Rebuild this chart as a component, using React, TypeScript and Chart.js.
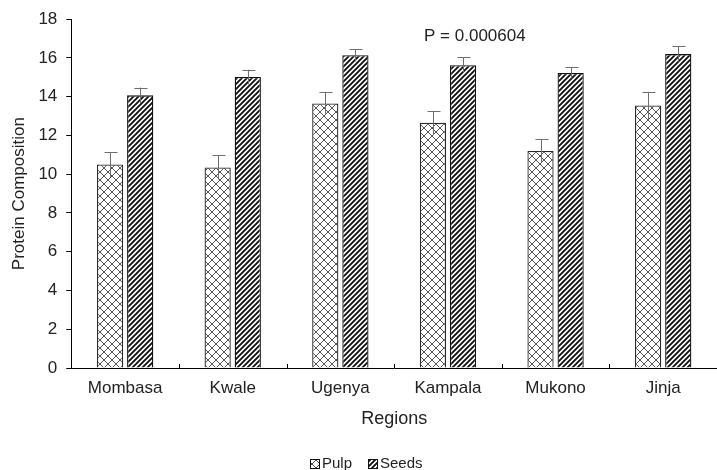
import React, { useEffect, useRef } from "react";
import { Chart, registerables } from "chart.js";

Chart.register(...registerables);

const categories = ["Mombasa", "Kwale", "Ugenya", "Kampala", "Mukono", "Jinja"];
const pulpValues = [10.5, 10.35, 13.65, 12.65, 11.2, 13.55];
const pulpErrors = [0.65, 0.62, 0.6, 0.62, 0.62, 0.7];
const seedValues = [14.07, 15.02, 16.14, 15.63, 15.23, 16.2];
const seedErrors = [0.4, 0.38, 0.32, 0.4, 0.28, 0.4];
const yTicks = [0, 2, 4, 6, 8, 10, 12, 14, 16, 18];
const pText = "P = 0.000604";
const seriesNames = ["Pulp", "Seeds"];

const FONT = "'Liberation Sans', Arial, sans-serif";
const TXT = "#222222";

function makeCrossPattern(): CanvasPattern | string {
  const s = 8;
  const c = document.createElement("canvas");
  c.width = s;
  c.height = s;
  const g = c.getContext("2d");
  if (!g) return "#fff";
  g.fillStyle = "#ffffff";
  g.fillRect(0, 0, s, s);
  g.strokeStyle = "#555555";
  g.lineWidth = 1;
  g.beginPath();
  g.moveTo(0, 0);
  g.lineTo(s, s);
  g.moveTo(s, 0);
  g.lineTo(0, s);
  g.stroke();
  const p = g.createPattern(c, "repeat");
  return p || "#fff";
}

function makeStripePattern(): CanvasPattern | string {
  const s = 5;
  const c = document.createElement("canvas");
  c.width = s;
  c.height = s;
  const g = c.getContext("2d");
  if (!g) return "#333";
  g.fillStyle = "#ffffff";
  g.fillRect(0, 0, s, s);
  g.strokeStyle = "#111111";
  g.lineWidth = 1.9;
  g.beginPath();
  g.moveTo(-1, s + 1);
  g.lineTo(s + 1, -1);
  g.moveTo(-1, 1);
  g.lineTo(1, -1);
  g.moveTo(s - 1, s + 1);
  g.lineTo(s + 1, s - 1);
  g.stroke();
  const p = g.createPattern(c, "repeat");
  return p || "#333";
}

const extrasPlugin = {
  id: "extras",
  afterDatasetsDraw(chart: any) {
    const ctx = chart.ctx;
    const x = chart.scales.x;
    const y = chart.scales.y;
    const errs = [pulpErrors, seedErrors];
    ctx.save();
    // error bars
    ctx.strokeStyle = "#6e6e6e";
    ctx.lineWidth = 1;
    chart.data.datasets.forEach((ds: any, di: number) => {
      const meta = chart.getDatasetMeta(di);
      meta.data.forEach((bar: any, i: number) => {
        const v = ds.data[i];
        const e = errs[di][i];
        const cx = Math.round(bar.x) + 0.5;
        const top = y.getPixelForValue(v + e);
        const bot = y.getPixelForValue(v - e);
        ctx.beginPath();
        ctx.moveTo(cx, bot);
        ctx.lineTo(cx, top);
        ctx.moveTo(cx - 6, Math.round(top) + 0.5);
        ctx.lineTo(cx + 7, Math.round(top) + 0.5);
        ctx.stroke();
      });
    });
    // inward ticks on x axis between categories
    ctx.strokeStyle = "#000";
    ctx.lineWidth = 1;
    const yb = Math.round(y.getPixelForValue(0));
    for (let i = 1; i < categories.length; i++) {
      const px = Math.round((x.getPixelForValue(i - 1) + x.getPixelForValue(i)) / 2) + 0.5;
      ctx.beginPath();
      ctx.moveTo(px, yb);
      ctx.lineTo(px, yb - 4);
      ctx.stroke();
    }
    // P text
    ctx.fillStyle = TXT;
    ctx.font = "17px " + FONT;
    ctx.textAlign = "center";
    ctx.textBaseline = "middle";
    const step = x.getPixelForValue(1) - x.getPixelForValue(0);
    const tx = x.getPixelForValue(3) + step * 0.25;
    ctx.fillText(pText, tx, y.getPixelForValue(17.1));

    // custom legend
    const fills = chart.data.datasets.map((d: any) => d.backgroundColor);
    ctx.font = "15px " + FONT;
    ctx.textAlign = "left";
    const box = 10;
    const gapBox = 2;
    const gapItem = 16;
    const widths = seriesNames.map((n) => ctx.measureText(n).width);
    const total = widths.reduce((a: number, w: number) => a + box + gapBox + w, 0) + gapItem;
    let lx = Math.round(chart.width / 2 + 8 - total / 2);
    const ly = chart.height - 6;
    seriesNames.forEach((n, i) => {
      ctx.fillStyle = fills[i];
      ctx.fillRect(lx, ly - box / 2, box, box);
      ctx.strokeStyle = "#111";
      ctx.lineWidth = 1;
      ctx.strokeRect(lx + 0.5, ly - box / 2 + 0.5, box - 1, box - 1);
      ctx.fillStyle = TXT;
      ctx.fillText(n, lx + box + gapBox, ly);
      lx += box + gapBox + widths[i] + gapItem;
    });
    ctx.restore();
  },
};

export default function App() {
  const ref = useRef<HTMLCanvasElement>(null);
  useEffect(() => {
    document.body.style.margin = "0";
    if (!ref.current) return;
    const pulpFill = makeCrossPattern();
    const seedFill = makeStripePattern();
    const chart = new Chart(ref.current, {
      type: "bar",
      data: {
        labels: categories,
        datasets: [
          {
            label: seriesNames[0],
            data: pulpValues,
            backgroundColor: pulpFill as any,
            borderColor: "#2a2a2a",
            borderWidth: 1.3,
            barPercentage: 0.87,
            categoryPercentage: 0.56,
          },
          {
            label: seriesNames[1],
            data: seedValues,
            backgroundColor: seedFill as any,
            borderColor: "#111",
            borderWidth: 1.3,
            barPercentage: 0.87,
            categoryPercentage: 0.56,
          },
        ],
      },
      options: {
        animation: false,
        responsive: false,
        maintainAspectRatio: false,
        layout: { padding: { top: 19, right: 0, left: 4, bottom: 16 } },
        plugins: {
          legend: { display: false },
          tooltip: { enabled: false },
        },
        scales: {
          x: {
            grid: { display: false, drawTicks: false },
            border: { display: true, color: "#000", width: 1 },
            ticks: { color: TXT, font: { family: FONT, size: 17 }, padding: 10 },
            title: {
              display: true,
              text: "Regions",
              color: TXT,
              font: { family: FONT, size: 18 },
              padding: { top: 0, bottom: 24 },
            },
          },
          y: {
            min: 0,
            max: 18,
            afterBuildTicks: (axis: any) => {
              axis.ticks = yTicks.map((v) => ({ value: v }));
            },
            grid: { drawOnChartArea: false, drawTicks: true, tickLength: 5, color: "#000" },
            border: { display: true, color: "#000", width: 1 },
            ticks: { color: TXT, font: { family: FONT, size: 17 }, padding: 9 },
            title: {
              display: true,
              text: "Protein Composition",
              color: TXT,
              font: { family: FONT, size: 17 },
              padding: { top: 5, bottom: 0 },
            },
          },
        },
      },
      plugins: [extrasPlugin],
    });
    return () => chart.destroy();
  }, []);
  return (
    <div style={{ width: 717, height: 470, background: "#fff" }}>
      <canvas ref={ref} width={717} height={470} style={{ display: "block" }} />
    </div>
  );
}
